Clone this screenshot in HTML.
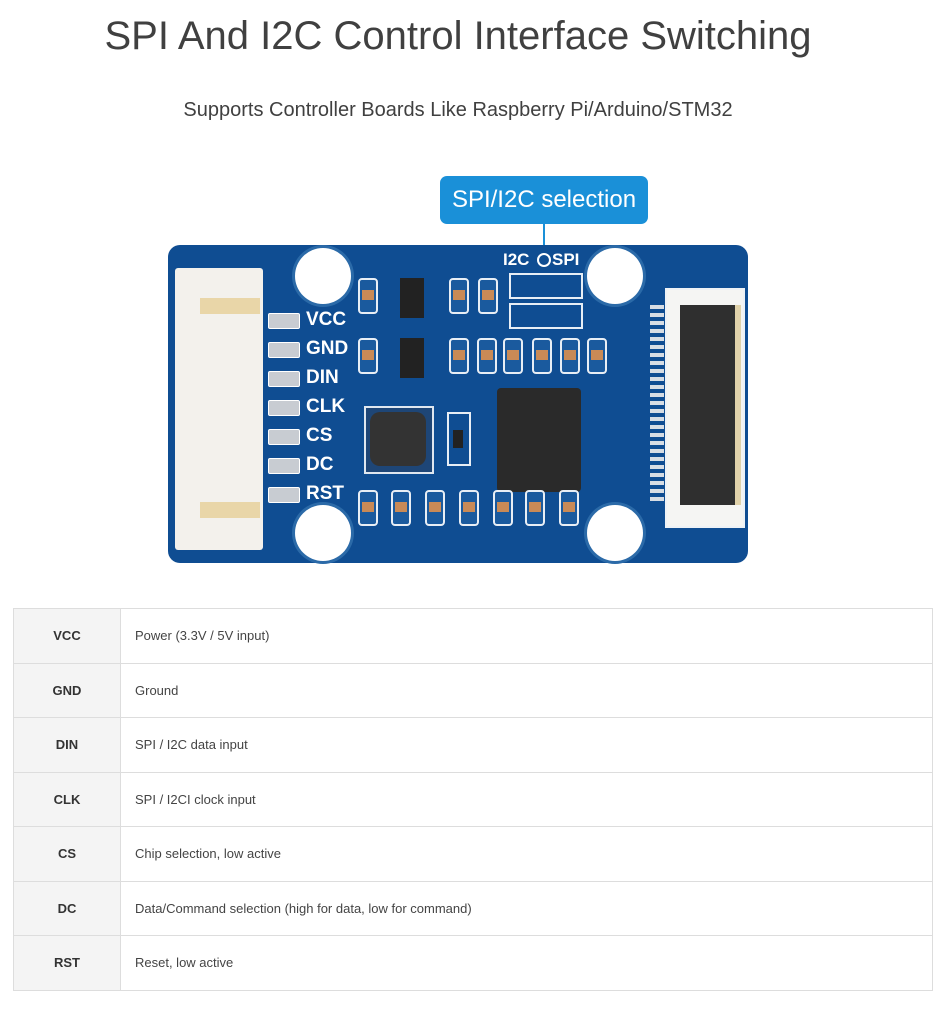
<!DOCTYPE html>
<html><head><style>
body{margin:0;width:946px;height:1027px;background:#fff;font-family:"Liberation Sans",Arial,sans-serif;position:relative;overflow:hidden}
.a{position:absolute}
h1{position:absolute;left:0;width:916px;top:14px;margin:0;text-align:center;font-weight:normal;font-size:40px;color:#404040}
.sub{left:0;width:916px;top:99px;text-align:center;font-size:20px;color:#404040}
.board{left:168px;top:245px;width:580px;height:318px;background:#0f4d92;border-radius:12px}
.hole{width:56px;height:56px;border-radius:50%;background:#fff;box-shadow:0 0 0 3px #2b6aa8}
.pin{color:#fff;font-weight:bold;font-size:19px}
.pad{width:30px;height:14px;background:#c8ccd2;border:1px solid #fff;border-radius:2px}
.cap{width:16px;height:32px;border:2px solid #e8eef5;border-radius:4px;background:#1a5a9e}
.cap i{position:absolute;left:2px;top:10px;width:12px;height:10px;background:#c98a56}
table{position:absolute;left:13px;top:608px;width:920px;border-collapse:collapse;table-layout:fixed}
td{border:1px solid #ddd;height:53.5px;font-size:13px;color:#444;padding:0 0 0 14px}
td.k{background:#f4f4f4;font-weight:bold;color:#333;text-align:center;padding:0}
</style></head><body>
<h1>SPI And I2C Control Interface Switching</h1>
<div class="a sub">Supports Controller Boards Like Raspberry Pi/Arduino/STM32</div>

<div class="a" style="left:440px;top:176px;width:208px;height:48px;background:#1a90d8;border-radius:7px;color:#fff;font-size:24px;line-height:48px;text-align:center">SPI/I2C selection</div>
<div class="a" style="left:543px;top:224px;width:2px;height:30px;background:#1a90d8"></div>

<div class="a board"></div>
<div class="a" style="left:175px;top:268px;width:88px;height:282px;background:#f3f1ec;border-radius:3px"></div>
<div class="a" style="left:200px;top:298px;width:60px;height:16px;background:#e9d6a8"></div>
<div class="a" style="left:200px;top:502px;width:60px;height:16px;background:#e9d6a8"></div>
<div class="a hole" style="left:295px;top:248px"></div>
<div class="a hole" style="left:587px;top:248px"></div>
<div class="a hole" style="left:295px;top:505px"></div>
<div class="a hole" style="left:587px;top:505px"></div>

<div class="a pad" style="left:268px;top:313px"></div><div class="a pin" style="left:306px;top:309px">VCC</div>
<div class="a pad" style="left:268px;top:342px"></div><div class="a pin" style="left:306px;top:338px">GND</div>
<div class="a pad" style="left:268px;top:371px"></div><div class="a pin" style="left:306px;top:367px">DIN</div>
<div class="a pad" style="left:268px;top:400px"></div><div class="a pin" style="left:306px;top:396px">CLK</div>
<div class="a pad" style="left:268px;top:429px"></div><div class="a pin" style="left:306px;top:425px">CS</div>
<div class="a pad" style="left:268px;top:458px"></div><div class="a pin" style="left:306px;top:454px">DC</div>
<div class="a pad" style="left:268px;top:487px"></div><div class="a pin" style="left:306px;top:483px">RST</div>

<div class="a pin" style="left:503px;top:250px;font-size:17px">I2C</div>
<div class="a" style="left:537px;top:253px;width:10px;height:10px;border-radius:50%;border:2px solid #fff"></div>
<div class="a pin" style="left:552px;top:250px;font-size:17px">SPI</div>
<div class="a" style="left:509px;top:273px;width:70px;height:22px;border:2px solid #e8eef5"></div>
<div class="a" style="left:509px;top:303px;width:70px;height:22px;border:2px solid #e8eef5"></div>

<div class="a" style="left:400px;top:278px;width:24px;height:40px;background:#222"></div>
<div class="a" style="left:400px;top:338px;width:24px;height:40px;background:#222"></div>
<div class="a" style="left:497px;top:388px;width:84px;height:104px;background:#2a2a2a;border-radius:4px"></div>
<div class="a" style="left:364px;top:406px;width:66px;height:64px;background:#1e4677;border:2px solid #dfe7f0"></div>
<div class="a" style="left:370px;top:412px;width:56px;height:54px;background:#333;border-radius:10px"></div>
<div class="a" style="left:447px;top:412px;width:20px;height:50px;border:2px solid #e8eef5"></div>
<div class="a" style="left:453px;top:430px;width:10px;height:18px;background:#222"></div>

<div class="a cap" style="left:358px;top:278px"><i></i></div>
<div class="a cap" style="left:449px;top:278px"><i></i></div>
<div class="a cap" style="left:478px;top:278px"><i></i></div>
<div class="a cap" style="left:358px;top:338px"><i></i></div>
<div class="a cap" style="left:449px;top:338px"><i></i></div>
<div class="a cap" style="left:477px;top:338px"><i></i></div>
<div class="a cap" style="left:503px;top:338px"><i></i></div>
<div class="a cap" style="left:532px;top:338px"><i></i></div>
<div class="a cap" style="left:560px;top:338px"><i></i></div>
<div class="a cap" style="left:587px;top:338px"><i></i></div>
<div class="a cap" style="left:358px;top:490px"><i></i></div>
<div class="a cap" style="left:391px;top:490px"><i></i></div>
<div class="a cap" style="left:425px;top:490px"><i></i></div>
<div class="a cap" style="left:459px;top:490px"><i></i></div>
<div class="a cap" style="left:493px;top:490px"><i></i></div>
<div class="a cap" style="left:525px;top:490px"><i></i></div>
<div class="a cap" style="left:559px;top:490px"><i></i></div>

<div class="a" style="left:650px;top:305px;width:14px;height:200px;background:repeating-linear-gradient(#d7dde4 0 4px,#0f4d92 4px 8px)"></div>
<div class="a" style="left:665px;top:288px;width:76px;height:236px;border:2px solid #eef2f6;background:#f5f5f3"></div>
<div class="a" style="left:680px;top:305px;width:55px;height:200px;background:#2f2f2f;border-right:6px solid #e0d2aa"></div>

<table>
<colgroup><col style="width:107px"><col></colgroup>
<tr><td class="k">VCC</td><td>Power (3.3V / 5V input)</td></tr>
<tr><td class="k">GND</td><td>Ground</td></tr>
<tr><td class="k">DIN</td><td>SPI / I2C data input</td></tr>
<tr><td class="k">CLK</td><td>SPI / I2CI clock input</td></tr>
<tr><td class="k">CS</td><td>Chip selection, low active</td></tr>
<tr><td class="k">DC</td><td>Data/Command selection (high for data, low for command)</td></tr>
<tr><td class="k">RST</td><td>Reset, low active</td></tr>
</table>
</body></html>
